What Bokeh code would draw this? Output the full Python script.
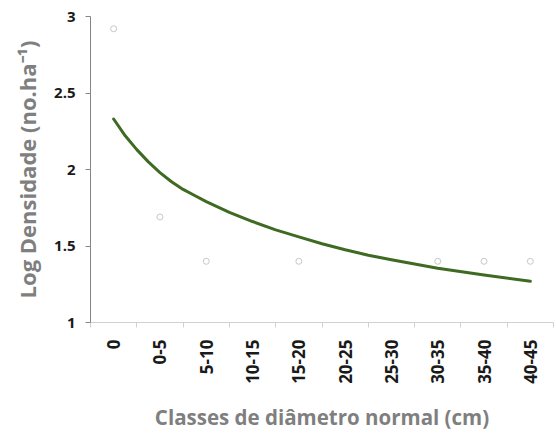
import math
from bokeh.plotting import figure
from bokeh.models import FixedTicker, Range1d, NumeralTickFormatter, ColumnDataSource
from bokeh.embed import file_html
from bokeh.resources import INLINE

categories = ["0", "0-5", "5-10", "10-15", "15-20", "20-25", "25-30", "30-35", "35-40", "40-45"]
observed = [2.92, 1.69, 1.40, float("nan"), 1.40, float("nan"), float("nan"), 1.40, 1.40, 1.40]
trend_pos = [1, 1.25, 1.5, 1.75, 2, 2.25, 2.5, 2.75, 3, 3.5, 4, 4.5, 5, 5.5, 6, 6.5, 7, 8, 9, 10]
trend_val = [2.33, 2.22, 2.13, 2.05, 1.98, 1.92, 1.87, 1.83, 1.79, 1.72, 1.66, 1.605, 1.56, 1.515,
             1.475, 1.44, 1.41, 1.355, 1.31, 1.27]
y_ticks = [1, 1.5, 2, 2.5, 3]

FONT = "Open Sans"
x_pos = list(range(1, len(categories) + 1))

p = figure(width=556, height=435, output_backend="svg", toolbar_location=None,
           x_range=Range1d(0.5, len(categories) + 0.5), y_range=Range1d(1, 3),
           min_border_left=90, min_border_right=3, min_border_top=16, min_border_bottom=113)
p.outline_line_color = None
p.xgrid.visible = False
p.ygrid.visible = False
p.background_fill_color = "white"
p.border_fill_color = "white"

# trend line
p.line(trend_pos, trend_val, line_color="#3f6a22", line_width=3, line_join="round", line_cap="round")

# observed points
src = ColumnDataSource(dict(x=x_pos, y=observed))
p.scatter("x", "y", source=src, size=6, fill_color="white", line_color="#c8c8c8", line_width=1)

# x axis
xa = p.xaxis[0]
xa.ticker = FixedTicker(ticks=x_pos, minor_ticks=[i + 0.5 for i in range(len(categories) + 1)])
xa.major_label_overrides = {i + 1: c for i, c in enumerate(categories)}
xa.major_label_orientation = math.pi / 2
xa.major_tick_out = 0
xa.major_tick_in = 0
xa.minor_tick_out = 5
xa.minor_tick_in = 0
xa.minor_tick_line_color = "#d0d0d0"
xa.axis_line_color = "#d0d0d0"
xa.major_label_standoff = 12
xa.major_label_text_font = FONT
xa.major_label_text_font_style = "bold"
xa.major_label_text_font_size = "17px"
xa.major_label_text_color = "#1a1a1a"
xa.axis_label = "Classes de diâmetro normal (cm)"
xa.axis_label_text_font = FONT
xa.axis_label_text_font_style = "bold"
xa.axis_label_text_font_size = "20.5px"
xa.axis_label_text_color = "#7f7f7f"
xa.axis_label_standoff = 16

# y axis
ya = p.yaxis[0]
ya.ticker = FixedTicker(ticks=y_ticks)
ya.formatter = NumeralTickFormatter(format="0.[0]")
ya.major_tick_out = 5
ya.major_tick_in = 0
ya.minor_tick_out = 0
ya.minor_tick_in = 0
ya.major_tick_line_color = "#868686"
ya.axis_line_color = "#868686"
ya.major_label_standoff = 10
ya.major_label_text_font = FONT
ya.major_label_text_font_style = "bold"
ya.major_label_text_font_size = "15px"
ya.major_label_text_color = "#1a1a1a"
ya.axis_label = "Log Densidade (no.ha⁻¹)"
ya.axis_label_text_font = FONT
ya.axis_label_text_font_style = "bold"
ya.axis_label_text_font_size = "22px"
ya.axis_label_text_color = "#7f7f7f"
ya.axis_label_standoff = 9

open("out.html", "w").write(file_html(p, INLINE))
